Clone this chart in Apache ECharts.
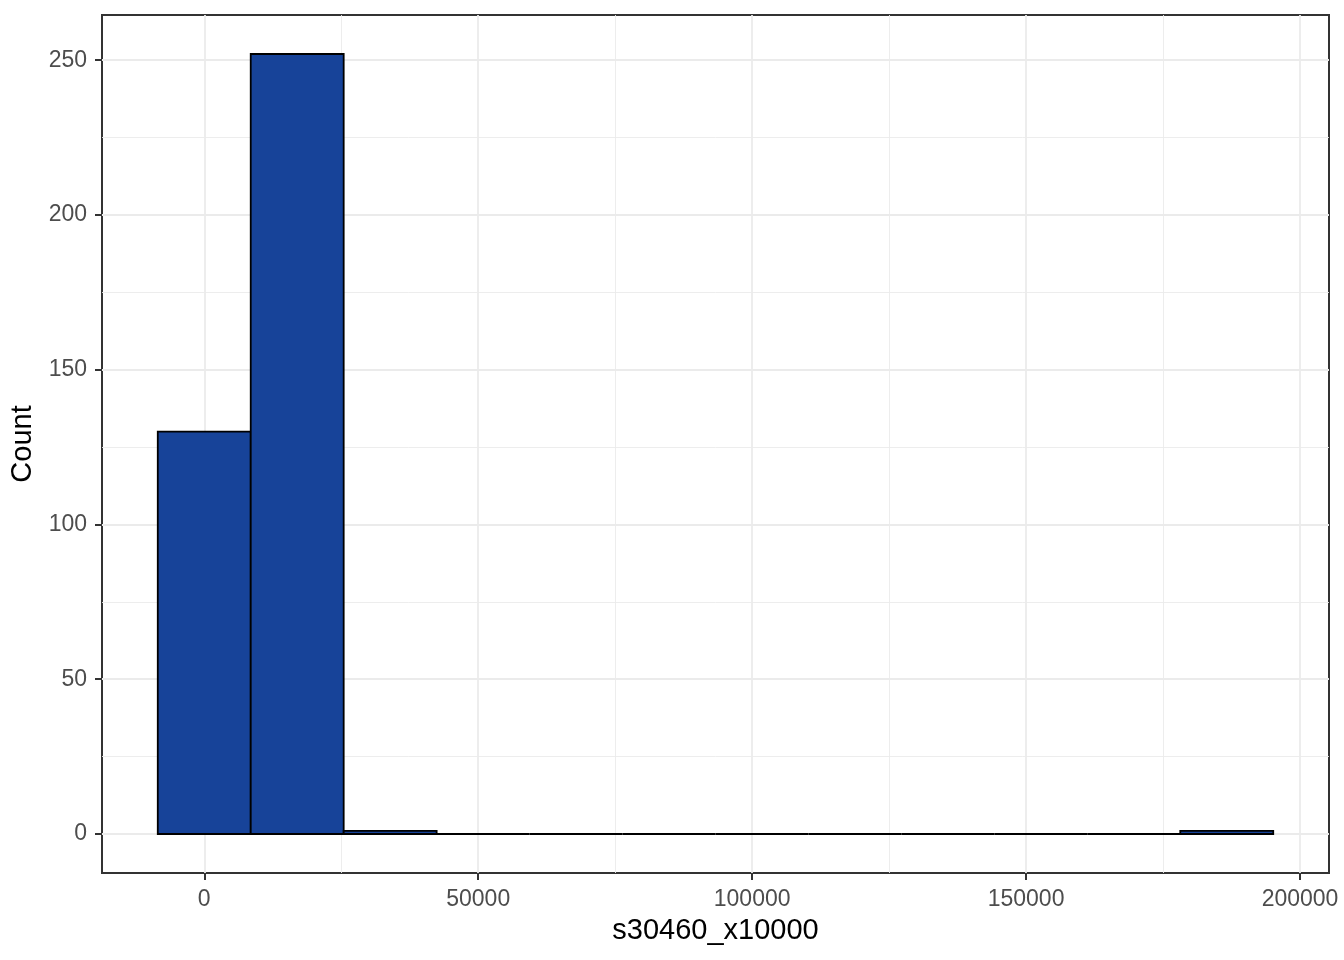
<!DOCTYPE html>
<html>
<head>
<meta charset="utf-8">
<script src="https://cdn.jsdelivr.net/npm/echarts@6/dist/echarts.min.js"></script>
<style>html,body{margin:0;padding:0;background:#fff}#c{width:1344px;height:960px}</style>
</head>
<body>
<div id="c"></div>
<script>
// Histogram bin edges (13 edges -> 12 bins) and counts
const binEdges = [-8483, 8483, 25449, 42415, 59381, 76347, 93313, 110279, 127245, 144211, 161177, 178143, 195109];
const counts = [130, 252, 1, 0, 0, 0, 0, 0, 0, 0, 0, 1];
const xTicks = [0, 50000, 100000, 150000, 200000];
const yTicks = [0, 50, 100, 150, 200, 250];
const xTitle = 's30460_x10000';
const yTitle = 'Count';

const bins = counts.map((c, i) => [binEdges[i], binEdges[i + 1], c]);
const xSpan = binEdges[binEdges.length - 1] - binEdges[0];
const xMin = binEdges[0] - 0.05 * xSpan;
const xMax = binEdges[binEdges.length - 1] + 0.05 * xSpan;
const yMaxData = Math.max(...counts);
const yMin = -0.05 * yMaxData;
const yMax = yMaxData * 1.05;

const FONT = '"Liberation Sans", Arial, sans-serif';
const fmt = v => String(Math.round(v));
const chart = echarts.init(document.getElementById('c'), null, { renderer: 'canvas' });
chart.setOption({
  animation: false,
  backgroundColor: '#ffffff',
  grid: { left: 102, right: 15, top: 15, bottom: 87, show: true, borderColor: '#333333', borderWidth: 2, backgroundColor: 'transparent' },
  xAxis: {
    type: 'value', min: xMin, max: xMax, splitNumber: 5,
    name: xTitle, nameLocation: 'middle', nameGap: 43,
    nameTextStyle: { fontFamily: FONT, fontSize: 29, color: '#000000' },
    axisLine: { show: false, onZero: false },
    axisTick: { show: true, length: 7, customValues: xTicks, lineStyle: { color: '#333333', width: 2 } },
    axisLabel: { customValues: xTicks, formatter: fmt, margin: 15, fontFamily: FONT, fontSize: 23, color: '#4D4D4D' },
    splitLine: { show: true, lineStyle: { color: '#EBEBEB', width: 1.8 } },
    minorTick: { show: false, splitNumber: 2 },
    minorSplitLine: { show: true, lineStyle: { color: '#EBEBEB', width: 0.9 } }
  },
  yAxis: {
    type: 'value', min: yMin, max: yMax, splitNumber: 5,
    name: yTitle, nameLocation: 'middle', nameGap: 56,
    nameTextStyle: { fontFamily: FONT, fontSize: 29, color: '#000000' },
    axisLine: { show: false, onZero: false },
    axisTick: { show: true, length: 7, customValues: yTicks, lineStyle: { color: '#333333', width: 2 } },
    axisLabel: { customValues: yTicks, formatter: fmt, margin: 15, fontFamily: FONT, fontSize: 23, color: '#4D4D4D' },
    splitLine: { show: true, lineStyle: { color: '#EBEBEB', width: 1.8 } },
    minorTick: { show: false, splitNumber: 2 },
    minorSplitLine: { show: true, lineStyle: { color: '#EBEBEB', width: 0.9 } }
  },
  series: [{
    type: 'custom',
    data: bins,
    encode: { x: [0, 1], y: 2 },
    renderItem: function (params, api) {
      const p0 = api.coord([api.value(0), api.value(2)]);
      const p1 = api.coord([api.value(1), 0]);
      return {
        type: 'rect',
        shape: { x: p0[0], y: p0[1], width: p1[0] - p0[0], height: p1[1] - p0[1] },
        style: { fill: '#174399', stroke: '#000000', lineWidth: 1.8 }
      };
    }
  }]
});
</script>
</body>
</html>
